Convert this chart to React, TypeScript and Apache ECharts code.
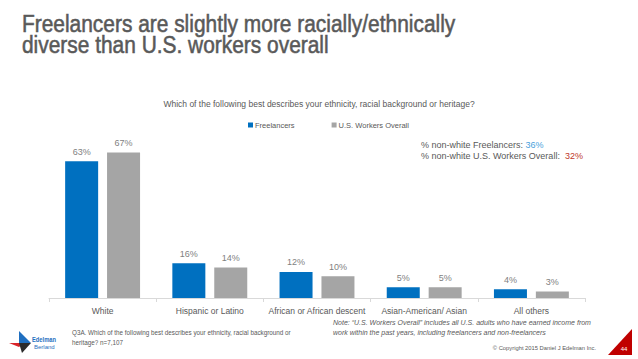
import React, { useEffect, useRef } from "react";
import * as echarts from "echarts";

const categories = ["White", "Hispanic or Latino", "African or African descent", "Asian-American/ Asian", "All others"];
const freelancers = [63, 16, 12, 5, 4];
const usWorkers = [67, 14, 10, 5, 3];
const seriesNames = ["Freelancers", "U.S. Workers Overall"];
const nonWhiteFreelancers = 36;
const nonWhiteWorkers = 32;

const TXT = "#595959";
const FONT = "'Liberation Sans', Arial, sans-serif";

export default function App() {
  const ref = useRef<HTMLDivElement>(null);
  useEffect(() => {
    if (!ref.current) return;
    const chart = echarts.init(ref.current, null, { renderer: "svg" });
    const label = {
      show: true,
      position: "top",
      distance: 5,
      color: "#7f7f7f",
      fontSize: 9,
      fontFamily: FONT,
      formatter: "{c}%",
    };
    const titleStyle = {
      font: `22px ${FONT}`,
      fill: "#595959",
      stroke: "#595959",
      lineWidth: 0.5,
    };
    chart.setOption({
      animation: false,
      backgroundColor: "#ffffff",
      textStyle: { fontFamily: FONT },
      grid: { left: 49, right: 53, top: 146, bottom: 61 },
      legend: {
        left: 243,
        top: 116,
        itemWidth: 5,
        itemHeight: 5,
        itemGap: 37,
        icon: "rect",
        textStyle: { color: TXT, fontSize: 7.5, fontFamily: FONT, padding: [0, 0, 0, -3] },
        data: seriesNames,
      },
      xAxis: {
        type: "category",
        data: categories,
        axisLine: { lineStyle: { color: "#d9d9d9", width: 1 } },
        axisTick: { show: true, length: 4, lineStyle: { color: "#d9d9d9" } },
        axisLabel: { color: TXT, fontSize: 8.5, margin: 8, fontFamily: FONT, interval: 0 },
      },
      yAxis: {
        type: "value",
        min: 0,
        max: 70,
        show: false,
        splitLine: { show: false },
      },
      series: [
        {
          name: seriesNames[0],
          type: "bar",
          data: freelancers,
          barWidth: 33,
          barGap: "27%",
          itemStyle: { color: "#0070c0" },
          label,
        },
        {
          name: seriesNames[1],
          type: "bar",
          data: usWorkers,
          barWidth: 33,
          itemStyle: { color: "#a5a5a5" },
          label,
        },
      ],
      graphic: [
        {
          type: "text",
          x: 22,
          y: 12,
          scaleX: 0.95,
          scaleY: 1.1,
          style: { ...titleStyle, text: "Freelancers are slightly more racially/ethnically" },
        },
        {
          type: "text",
          x: 22,
          y: 33,
          scaleX: 0.95,
          scaleY: 1.1,
          style: { ...titleStyle, text: "diverse than U.S. workers overall" },
        },
        {
          type: "text",
          x: 319,
          y: 104,
          style: {
            text: "Which of the following best describes your ethnicity, racial background or heritage?",
            font: `8.5px ${FONT}`,
            fill: TXT,
            textAlign: "center",
            textVerticalAlign: "middle",
          },
        },
        {
          type: "text",
          x: 421,
          y: 150,
          style: {
            text: `% non-white Freelancers: {b|${nonWhiteFreelancers}%}\n% non-white U.S. Workers Overall:  {r|${nonWhiteWorkers}%}`,
            font: `9px ${FONT}`,
            lineHeight: 11,
            fill: TXT,
            textVerticalAlign: "middle",
            rich: {
              b: { fill: "#4a9fdc", font: `9px ${FONT}` },
              r: { fill: "#c0392b", font: `9px ${FONT}` },
            },
          },
        },
        // logo
        { type: "polygon", shape: { points: [[19, 331], [31, 343], [19, 343]] }, style: { fill: "#1f6fc0" } },
        { type: "polygon", shape: { points: [[9, 343], [24, 343], [19, 347]] }, style: { fill: "#d9252b" } },
        { type: "polygon", shape: { points: [[19, 343], [31, 343], [22, 353]] }, style: { fill: "#2b2b2b" } },
        {
          type: "text",
          x: 32,
          y: 339,
          scaleX: 0.72,
          style: { text: "Edelman", font: `bold 8px ${FONT}`, fill: "#1f6fc0", textVerticalAlign: "middle" },
        },
        {
          type: "text",
          x: 34,
          y: 347,
          style: { text: "Berland", font: `6px ${FONT}`, fill: "#1f6fc0", textVerticalAlign: "middle" },
        },
        {
          type: "text",
          x: 72,
          y: 337,
          style: {
            text: "Q3A. Which of the following best describes your ethnicity, racial background or\nheritage? n=7,107",
            font: `6.3px ${FONT}`,
            lineHeight: 10,
            fill: TXT,
            textVerticalAlign: "middle",
          },
        },
        {
          type: "text",
          x: 333,
          y: 327,
          style: {
            text: "Note: \u201CU.S. Workers Overall\u201D includes all U.S. adults who have earned income from\nwork within the past years, including freelancers and non-freelancers",
            font: `italic 7px ${FONT}`,
            lineHeight: 10,
            fill: TXT,
            textVerticalAlign: "middle",
          },
        },
        {
          type: "text",
          x: 596,
          y: 348,
          style: {
            text: "\u00A9 Copyright 2015 Daniel J Edelman Inc.",
            font: `5.8px ${FONT}`,
            fill: TXT,
            textAlign: "right",
            textVerticalAlign: "middle",
          },
        },
        { type: "polygon", shape: { points: [[608, 355], [632, 329], [632, 355]] }, style: { fill: "#c00000" } },
        {
          type: "text",
          x: 624,
          y: 349,
          style: { text: "44", font: `6px ${FONT}`, fill: "#ffffff", textAlign: "center", textVerticalAlign: "middle" },
        },
      ],
    });
    return () => chart.dispose();
  }, []);
  return (
    <div
      ref={ref}
      style={{ position: "fixed", left: 0, top: 0, width: 638, height: 359, background: "#fff" }}
    />
  );
}
